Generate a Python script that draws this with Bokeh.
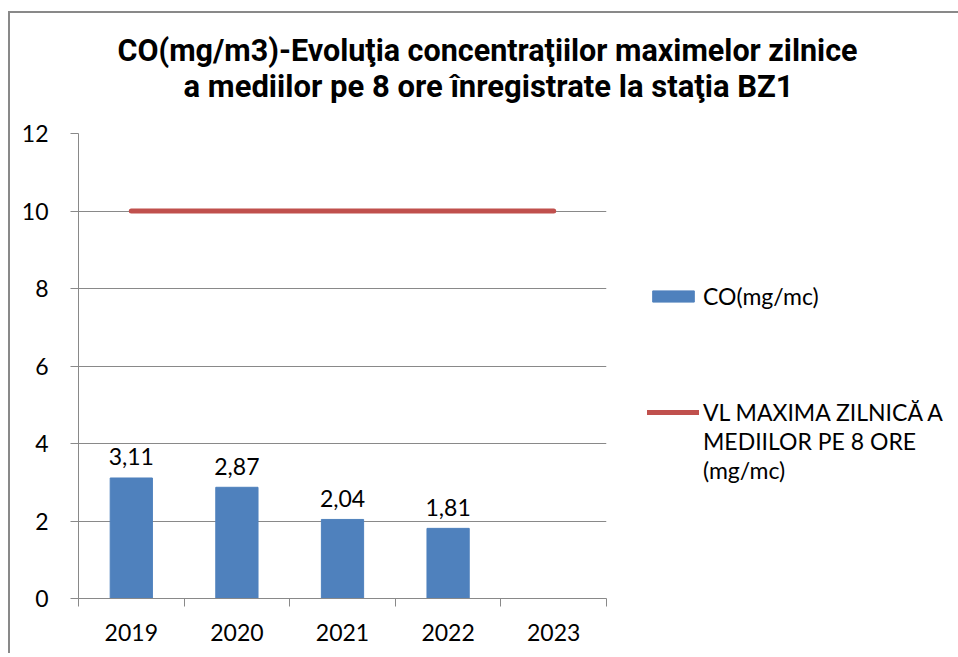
from bokeh.plotting import figure
from bokeh.models import ColumnDataSource, FixedTicker, Legend, LegendItem, Range1d, Title
from bokeh.core.properties import value
from bokeh.embed import file_html
from bokeh.resources import INLINE

# ---- data ----
years = ["2019", "2020", "2021", "2022", "2023"]
co_values = [3.11, 2.87, 2.04, 1.81, None]      # 2023: no value
limit_values = [10, 10, 10, 10, 10]
y_ticks = [0, 2, 4, 6, 8, 10, 12]
title_lines = ["CO(mg/m3)-Evoluţia concentraţiilor maximelor zilnice",
               "a mediilor pe 8 ore înregistrate la staţia BZ1"]
bar_label = "CO(mg/mc)"
line_label_lines = ["VL MAXIMA ZILNICĂ A", "MEDIILOR PE 8 ORE", "(mg/mc)"]

BODY_FONT = "Lato"
TITLE_FONT = "Roboto"
GRAY = "#898989"
FS = "23px"

positions = [i + 0.5 for i in range(len(years))]
bx = [positions[i] for i, v in enumerate(co_values) if v is not None]
bv = [v for v in co_values if v is not None]
bar_src = ColumnDataSource(dict(x=bx, top=bv, lbl=[f"{v:.2f}".replace(".", ",") for v in bv]))
line_src = ColumnDataSource(dict(x=positions, y=limit_values))

p = figure(frame_width=528, frame_height=465, x_range=Range1d(0, len(years)), y_range=Range1d(0, 12),
           output_backend="svg", toolbar_location=None,
           min_border_left=68, min_border_right=344, min_border_top=120, min_border_bottom=55)
p.styles = {"margin-left": "8px", "margin-top": "11px",
            "border-left": f"2px solid {GRAY}", "border-top": f"2px solid {GRAY}"}
p.outline_line_color = None
p.background_fill_color = "white"

# axes
p.yaxis.ticker = FixedTicker(ticks=y_ticks)
p.yaxis.axis_line_color = GRAY
p.yaxis.major_tick_line_color = GRAY
p.yaxis.major_tick_out = 8
p.yaxis.major_tick_in = 0
p.yaxis.minor_tick_line_color = None
p.yaxis.major_label_standoff = 22
p.yaxis.major_label_text_font = BODY_FONT
p.yaxis.major_label_text_font_size = FS
p.yaxis.major_label_text_color = "black"

p.xaxis.ticker = FixedTicker(ticks=positions, minor_ticks=list(range(len(years) + 1)))
p.xaxis.major_label_overrides = {pos: y for pos, y in zip(positions, years)}
p.xaxis.axis_line_color = GRAY
p.xaxis.major_tick_line_color = None
p.xaxis.major_tick_out = 0
p.xaxis.major_tick_in = 0
p.xaxis.minor_tick_line_color = GRAY
p.xaxis.minor_tick_out = 8
p.xaxis.minor_tick_in = 0
p.xaxis.major_label_standoff = 17
p.xaxis.major_label_text_font = BODY_FONT
p.xaxis.major_label_text_font_size = FS
p.xaxis.major_label_text_color = "black"

p.xgrid.grid_line_color = None
p.ygrid.ticker = FixedTicker(ticks=y_ticks)
p.ygrid.grid_line_color = GRAY
p.ygrid.grid_line_width = 1

# glyphs
bars = p.vbar(x="x", top="top", width=0.4, source=bar_src, color="#4F81BD")
ln = p.line(x="x", y="y", source=line_src, line_width=5, line_color="#C0504D", line_cap="round")
txt = p.text(x="x", y="top", text="lbl", source=bar_src, text_align="center",
             text_baseline="alphabetic", y_offset=-21, text_font=value(BODY_FONT),
             text_font_size=FS, text_color="black")

# title (two lines, stacked above the frame; first added is nearest the frame)
p.add_layout(Title(text=title_lines[1], align="left", offset=105, standoff=58,
                   text_font=TITLE_FONT, text_font_style="bold", text_font_size="31px",
                   text_color="black"), "above")
p.add_layout(Title(text=title_lines[0], align="left", offset=39, standoff=-62,
                   text_font=TITLE_FONT, text_font_style="bold", text_font_size="30.5px",
                   text_color="black"), "above")

# legend: bar item, blank rows, then the limit line item whose label continues on two more rows
def blank():
    return LegendItem(label=" ", renderers=[txt])

items = [LegendItem(label=bar_label, renderers=[bars])]
items += [blank() for _ in range(3)]
items += [LegendItem(label=line_label_lines[0], renderers=[ln])]
items += [LegendItem(label=t, renderers=[txt]) for t in line_label_lines[1:]]
legend = Legend(items=items, location=(41, 114), padding=0, margin=0, spacing=1,
                border_line_color=None, background_fill_alpha=0,
                glyph_width=52, glyph_height=14, label_standoff=4, label_height=28,
                label_text_font=BODY_FONT, label_text_font_size=FS, label_text_color="black")
p.add_layout(legend, "right")

open("out.html", "w").write(file_html(p, INLINE))
